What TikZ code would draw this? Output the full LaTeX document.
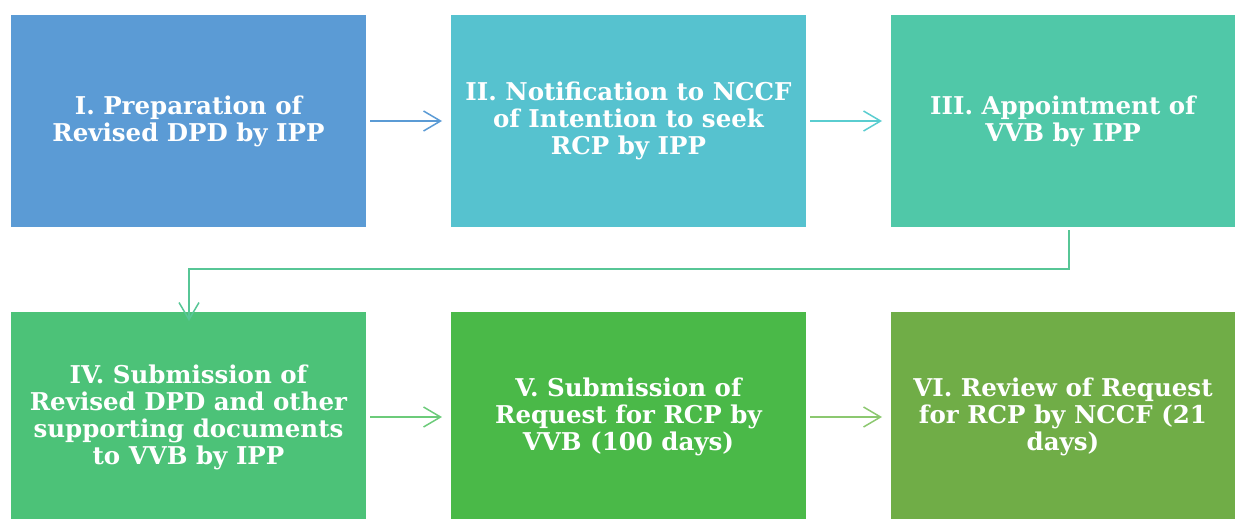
\documentclass[tikz,border=0pt]{standalone}
\usepackage{fontspec}
\setmainfont{DejaVu Serif}
\usetikzlibrary{arrows.meta}
\definecolor{cA}{HTML}{5B9BD5}
\definecolor{cB}{HTML}{56C2CF}
\definecolor{cC}{HTML}{50C8A8}
\definecolor{cD}{HTML}{4CC278}
\definecolor{cE}{HTML}{4AB948}
\definecolor{cF}{HTML}{70AD47}
\definecolor{aA}{HTML}{5B9BD5}
\definecolor{aB}{HTML}{5ACDD0}
\definecolor{aC}{HTML}{57C696}
\definecolor{aD}{HTML}{6CCB7A}
\definecolor{aE}{HTML}{8CC870}
\tikzset{
  stepbox/.style={rectangle, inner sep=0pt, outer sep=0pt, anchor=north west,
    text=white, font=\bfseries\fontsize{24.5}{27}\selectfont, align=center},
  link/.style={line width=1.5pt, -{Straight Barb[length=17pt, width=20pt, line width=1.5pt]}}
}
\begin{document}
\begin{tikzpicture}[x=1pt, y=-1pt]
\useasboundingbox (0,0) rectangle (1235,519);
% row one
\node[stepbox, fill=cA, minimum width=355pt, minimum height=212pt] (s1) at (11,15)
  {I. Preparation of\\Revised DPD by IPP};
\node[stepbox, fill=cB, minimum width=355pt, minimum height=212pt] (s2) at (451,15)
  {II. Notification to NCCF\\of Intention to seek\\RCP by IPP};
\node[stepbox, fill=cC, minimum width=344pt, minimum height=212pt] (s3) at (891,15)
  {III. Appointment of\\VVB by IPP};
% row two
\node[stepbox, fill=cD, minimum width=355pt, minimum height=210pt] (s4) at (11,312)
  {IV. Submission of\\Revised DPD and other\\supporting documents\\to VVB by IPP};
\node[stepbox, fill=cE, minimum width=355pt, minimum height=210pt] (s5) at (451,312)
  {V. Submission of\\Request for RCP by\\VVB (100 days)};
\node[stepbox, fill=cF, minimum width=344pt, minimum height=210pt] (s6) at (891,312)
  {VI. Review of Request\\for RCP by NCCF (21\\days)};
% connectors
\draw[link, draw=aA] ([xshift=4pt]s1.east) -- ([xshift=-9pt]s2.west);
\draw[link, draw=aB] ([xshift=4pt]s2.east) -- ([xshift=-9pt]s3.west);
\coordinate (turnR) at (1069,269);
\coordinate (turnL) at (189,269);
\draw[link, draw=aC] (1069,230) -- (turnR) -- (turnL) -- ([yshift=-9pt]s4.north -| turnL);
\draw[link, draw=aD] ([xshift=4pt]s4.east) -- ([xshift=-9pt]s5.west);
\draw[link, draw=aE] ([xshift=4pt]s5.east) -- ([xshift=-9pt]s6.west);
\end{tikzpicture}
\end{document}
